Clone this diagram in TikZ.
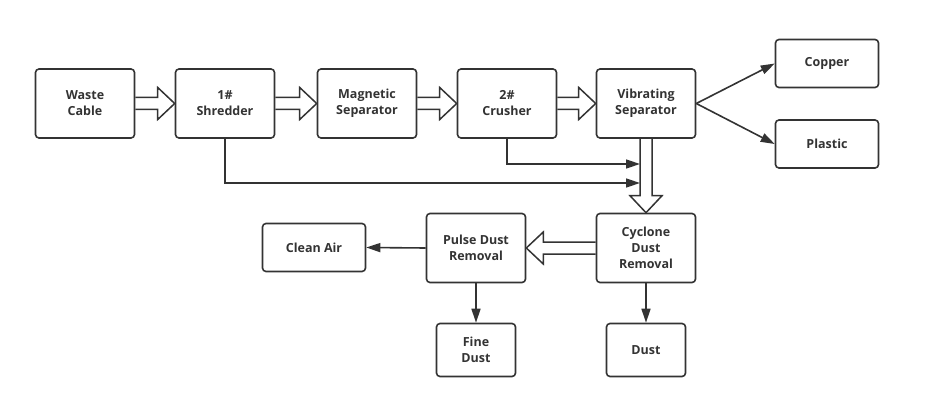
\documentclass[tikz,border=0pt]{standalone}
\usepackage{fontspec}
\setmainfont{Open Sans}
\usetikzlibrary{arrows.meta,calc}
\definecolor{ink}{HTML}{333333}
\tikzset{
  box/.style={draw=ink, text=ink, line width=1.6pt, rounded corners=3.5pt, align=center,
    font=\fontsize{12.5}{16}\selectfont\bfseries, inner sep=0pt,
    minimum width=99pt, minimum height=69pt},
  small/.style={box, minimum width=103pt, minimum height=48pt},
  tiny/.style={box, minimum width=79pt, minimum height=53pt},
  fat/.style={draw=ink, line width=1.5pt, line join=miter},
  line/.style={draw=ink, line width=1.6pt, -{Triangle[length=14pt,width=9pt]}}
}
\newcommand{\fatright}[2]{%
  \draw[fat] ($(#1.east)+(0,-6)$) -- ($(#2.west)+(-17,-6)$) -- ++(0,-10) -- (#2.west)
    -- ++(-17,16) -- ++(0,-10) -- ($(#1.east)+(0,6)$);}
\begin{document}
\begin{tikzpicture}[x=1pt,y=-1pt]
\useasboundingbox (0,0) rectangle (947,401);

\node[box] (waste) at (85,103.5) {Waste\\Cable};
\node[box] (shred) at (225,103.5) {1\#\\Shredder};
\node[box] (magnet) at (367,103.5) {Magnetic\\Separator};
\node[box] (crush) at (507,103.5) {2\#\\Crusher};
\node[box] (vibra) at (646,103.5) {Vibrating\\Separator};
\node[small] (copper) at (827,63.5) {Copper};
\node[small] (plastic) at (827,144) {Plastic};
\node[box] (cyclone) at (646,248) {Cyclone\\Dust\\Removal};
\node[box] (pulse) at (476,248) {Pulse Dust\\Removal};
\node[small] (cleanair) at (314,247.5) {Clean Air};
\node[tiny] (fine) at (476,350) {Fine\\Dust};
\node[tiny] (dust) at (646,350) {Dust};

\fatright{waste}{shred}
\fatright{shred}{magnet}
\fatright{magnet}{crush}
\fatright{crush}{vibra}
\draw[fat] ($(vibra.south)+(-6,0)$) -- ($(cyclone.north)+(-6,-17)$) -- ++(-10,0) -- (cyclone.north)
  -- ++(16,-17) -- ++(-10,0) -- ($(vibra.south)+(6,0)$);
\draw[fat] ($(cyclone.west)+(0,-6)$) -- ($(pulse.east)+(17,-6)$) -- ++(0,-10) -- (pulse.east)
  -- ++(17,16) -- ++(0,-10) -- ($(cyclone.west)+(0,6)$);

\coordinate (in1) at (640,164);
\coordinate (in2) at (640,183);
\draw[line] (crush.south) |- (in1);
\draw[line] (shred.south) |- (in2);
\draw[line] (vibra.east) -- (copper.west);
\draw[line] (vibra.east) -- (plastic.west);
\draw[line] (pulse.west) -- (cleanair.east);
\draw[line] (pulse.south) -- (fine.north);
\draw[line] (cyclone.south) -- (dust.north);
\end{tikzpicture}
\end{document}
